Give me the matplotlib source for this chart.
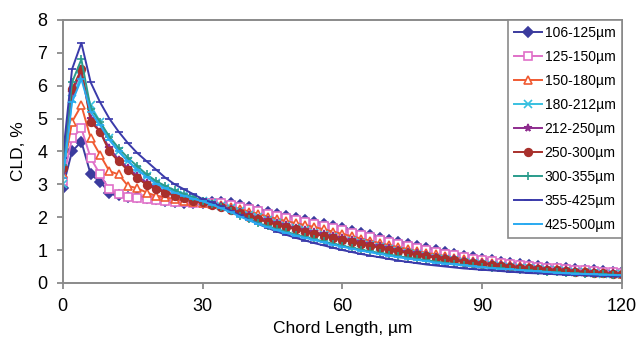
import matplotlib
matplotlib.use("Agg")
from matplotlib import pyplot as plt

plt.rcParams['font.family'] = ['Liberation Sans', 'DejaVu Sans']

# chord length axis, 0..120 step 2 um
chord = list(range(0, 122, 2))

labels = ["106-125µm", "125-150µm", "150-180µm", "180-212µm", "212-250µm",
          "250-300µm", "300-355µm", "355-425µm", "425-500µm"]

cld_106 = [2.9, 4.0, 4.3, 3.3, 3.08, 2.75, 2.68, 2.62, 2.6, 2.57, 2.55, 2.5, 2.47, 2.44, 2.42, 2.42,
           2.45, 2.46, 2.43, 2.37, 2.3, 2.23, 2.16, 2.09, 2.03, 1.97, 1.91, 1.85, 1.79, 1.73, 1.66,
           1.59, 1.52, 1.45, 1.38, 1.31, 1.24, 1.17, 1.11, 1.05, 0.99, 0.93, 0.88, 0.83, 0.78, 0.74,
           0.69, 0.65, 0.61, 0.58, 0.55, 0.52, 0.49, 0.46, 0.44, 0.42, 0.40, 0.38, 0.36, 0.34, 0.32]
cld_125 = [3.1, 4.4, 4.7, 3.8, 3.3, 2.85, 2.7, 2.62, 2.58, 2.55, 2.52, 2.5, 2.47, 2.45, 2.43, 2.42,
           2.42, 2.42, 2.38, 2.32, 2.25, 2.18, 2.11, 2.04, 1.98, 1.92, 1.86, 1.8, 1.74, 1.67, 1.6,
           1.53, 1.46, 1.39, 1.32, 1.25, 1.18, 1.12, 1.06, 1.0, 0.94, 0.89, 0.84, 0.79, 0.74, 0.70,
           0.66, 0.62, 0.58, 0.55, 0.52, 0.49, 0.46, 0.44, 0.42, 0.40, 0.38, 0.36, 0.34, 0.32, 0.30]
cld_150 = [3.3, 4.9, 5.4, 4.4, 3.9, 3.4, 3.3, 2.95, 2.88, 2.75, 2.65, 2.6, 2.55, 2.5, 2.47, 2.44,
           2.4, 2.38, 2.32, 2.25, 2.17, 2.1, 2.02, 1.95, 1.88, 1.82, 1.76, 1.7, 1.63, 1.56, 1.49,
           1.42, 1.35, 1.28, 1.21, 1.15, 1.09, 1.03, 0.97, 0.92, 0.87, 0.82, 0.77, 0.72, 0.68, 0.64,
           0.6, 0.57, 0.54, 0.51, 0.48, 0.45, 0.43, 0.41, 0.39, 0.37, 0.35, 0.33, 0.31, 0.3, 0.28]
cld_180 = [3.0, 5.6, 6.3, 5.4, 4.9, 4.4, 4.0, 3.7, 3.45, 3.25, 3.05, 2.9, 2.78, 2.68, 2.58, 2.5,
           2.42, 2.35, 2.27, 2.18, 2.08, 1.99, 1.9, 1.82, 1.74, 1.67, 1.6, 1.53, 1.46, 1.39, 1.32,
           1.26, 1.2, 1.14, 1.08, 1.02, 0.97, 0.92, 0.87, 0.82, 0.77, 0.73, 0.69, 0.65, 0.61, 0.58,
           0.55, 0.52, 0.49, 0.46, 0.44, 0.42, 0.4, 0.38, 0.36, 0.34, 0.32, 0.3, 0.28, 0.27, 0.26]
cld_212 = [3.4, 5.8, 6.45, 5.0, 4.6, 4.1, 3.75, 3.5, 3.25, 3.05, 2.9, 2.78, 2.68, 2.6, 2.52, 2.46,
           2.4, 2.33, 2.25, 2.16, 2.07, 1.98, 1.9, 1.82, 1.75, 1.68, 1.61, 1.54, 1.48, 1.42, 1.36,
           1.3, 1.24, 1.18, 1.12, 1.06, 1.0, 0.95, 0.9, 0.85, 0.8, 0.76, 0.72, 0.68, 0.64, 0.6,
           0.57, 0.54, 0.51, 0.48, 0.46, 0.44, 0.42, 0.4, 0.38, 0.36, 0.34, 0.32, 0.3, 0.29, 0.28]
cld_250 = [3.5, 5.9, 6.5, 4.9, 4.6, 4.0, 3.7, 3.43, 3.2, 2.98, 2.85, 2.75, 2.65, 2.58, 2.5, 2.45,
           2.38, 2.3, 2.21, 2.12, 2.02, 1.93, 1.85, 1.77, 1.7, 1.63, 1.56, 1.49, 1.43, 1.37, 1.31,
           1.25, 1.19, 1.13, 1.07, 1.01, 0.96, 0.91, 0.86, 0.81, 0.77, 0.73, 0.69, 0.65, 0.61, 0.58,
           0.55, 0.52, 0.49, 0.46, 0.44, 0.42, 0.4, 0.38, 0.36, 0.34, 0.32, 0.3, 0.29, 0.28, 0.27]
cld_300 = [3.6, 6.1, 6.8, 5.3, 4.9, 4.45, 4.1, 3.8, 3.55, 3.3, 3.1, 2.95, 2.82, 2.7, 2.6, 2.5,
           2.4, 2.3, 2.18, 2.05, 1.93, 1.82, 1.72, 1.63, 1.55, 1.47, 1.4, 1.33, 1.26, 1.19, 1.13,
           1.07, 1.01, 0.96, 0.91, 0.86, 0.81, 0.77, 0.73, 0.69, 0.65, 0.61, 0.58, 0.55, 0.52, 0.49,
           0.46, 0.44, 0.42, 0.4, 0.38, 0.36, 0.34, 0.32, 0.3, 0.29, 0.28, 0.27, 0.26, 0.25, 0.24]
cld_355 = [3.8, 6.5, 7.3, 6.1, 5.5, 5.0, 4.6, 4.25, 3.95, 3.7, 3.45, 3.2, 3.0, 2.85, 2.7, 2.55,
           2.45, 2.33, 2.2, 2.06, 1.92, 1.79, 1.67, 1.56, 1.46, 1.37, 1.29, 1.21, 1.14, 1.07, 1.0,
           0.94, 0.88, 0.83, 0.78, 0.73, 0.68, 0.64, 0.6, 0.56, 0.53, 0.5, 0.47, 0.44, 0.42, 0.4,
           0.38, 0.36, 0.34, 0.32, 0.3, 0.29, 0.28, 0.26, 0.25, 0.24, 0.23, 0.22, 0.21, 0.2, 0.2]
cld_425 = [3.2, 5.5, 6.2, 5.2, 4.8, 4.35, 4.0, 3.7, 3.45, 3.22, 3.02, 2.88, 2.75, 2.65, 2.56, 2.48,
           2.38, 2.27, 2.15, 2.02, 1.9, 1.79, 1.69, 1.6, 1.52, 1.44, 1.37, 1.3, 1.23, 1.16, 1.1,
           1.04, 0.98, 0.93, 0.88, 0.83, 0.78, 0.74, 0.7, 0.66, 0.62, 0.59, 0.56, 0.53, 0.5, 0.47,
           0.45, 0.43, 0.41, 0.39, 0.37, 0.35, 0.33, 0.31, 0.29, 0.28, 0.27, 0.26, 0.25, 0.24, 0.23]

series = [cld_106, cld_125, cld_150, cld_180, cld_212, cld_250, cld_300, cld_355, cld_425]

# (colour, marker, filled)
styles = [("#3b3b9e", "D", True),
          ("#e070c8", "s", False),
          ("#f05a32", "^", False),
          ("#38c0e0", "x", True),
          ("#8e2c8e", "*", True),
          ("#a8302c", "o", True),
          ("#2a9c8c", "+", True),
          ("#3a3aaa", "_", True),
          ("#2aaaf0", "_", True)]

fig, ax = plt.subplots(figsize=(6.4, 3.38), dpi=100)
fig.subplots_adjust(left=0.098, right=0.972, bottom=0.163, top=0.941)

for y, lab, (col, mk, filled) in zip(series, labels, styles):
    ax.plot(chord, y, color=col, lw=1.4, marker=mk, ms=5.5, mew=1.2,
            mfc=col if filled else "white", mec=col, label=lab)

ax.set_xlim(0, 120)
ax.set_ylim(0, 8)
ax.set_xticks([0, 30, 60, 90, 120])
ax.set_yticks(range(0, 9))
ax.tick_params(labelsize=13, color="#808080", direction="out", length=4, width=1.2, pad=7)
for s in ax.spines.values():
    s.set_color("#8a8a8a")
    s.set_linewidth(1.4)

ax.set_xlabel("Chord Length, µm", fontsize=12.5, labelpad=4)
ax.set_ylabel("CLD, %", fontsize=12.5, labelpad=8)

leg = ax.legend(loc="upper right", fontsize=10, frameon=True, fancybox=False,
                borderaxespad=0.0, labelspacing=0.72, handlelength=2.0, handletextpad=0.2,
                borderpad=0.45, framealpha=1)
leg.get_frame().set_edgecolor("#8a8a8a")
leg.get_frame().set_linewidth(1.2)

fig.savefig("out.png", dpi=100)
